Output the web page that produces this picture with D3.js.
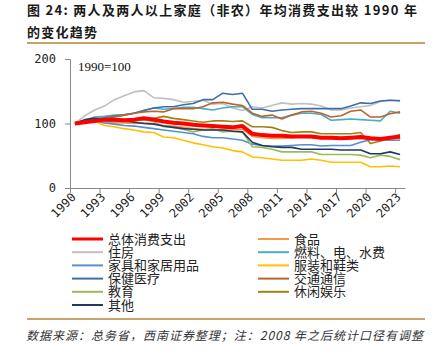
<!DOCTYPE html>
<html><head><meta charset="utf-8">
<script src="https://cdn.jsdelivr.net/npm/d3@7"></script>
<style>
html,body{margin:0;padding:0;background:#fff;}
svg{display:block;}
</style></head>
<body>
<script>
// ---- data ----
const years = d3.range(1990, 2024);
const xTickYears = [1990,1993,1996,1999,2002,2005,2008,2011,2014,2017,2020,2023];
const yTicks = [0,100,200];

const seriesNames = ["总体消费支出","食品","住房","燃料、电、水费","家具和家居用品","服装和鞋类","保健医疗","交通通信","教育","休闲娱乐","其他"];

const total     = [100,102,104,106,106,105,106,108,106,103,101,100,98,97,96,95,94,96,84,82,81,81,80,80,80,78,78,77,78,79,77,76,78,80];
const food      = [100,103,104,103,101,101,100,101,100,97,96,94,92,91,90,90,90,91,80,78,77,77,78,79,78,77,77,77,77,77,76,76,77,77];
const housing   = [100,112,121,127,137,143,149,151,140,139,137,133,134,136,130,131,124,120,126,124,128,132,130,131,130,127,121,121,124,126,128,134,136,136];
const utilities = [100,105,110,111,113,114,116,120,124,122,123,125,125,123,121,124,126,126,114,109,109,109,113,116,116,114,105,106,107,106,105,104,119,116];
const furniture = [100,104,104,101,99,97,96,94,92,90,88,86,84,80,78,78,76,74,68,66,65,65,66,67,67,65,66,66,66,71,75,75,74,74];
const clothing  = [100,102,104,97,95,92,90,87,86,79,78,74,70,67,64,62,58,56,48,47,45,43,43,43,45,43,40,40,40,40,33,33,34,33];
const medical   = [100,105,107,109,111,113,116,120,124,126,126,129,131,137,137,147,145,147,122,122,119,121,122,123,123,123,123,123,127,132,131,135,136,135];
const transport = [100,103,105,108,110,113,116,118,119,118,123,123,123,126,132,133,130,128,116,111,113,107,113,118,119,116,110,112,119,121,110,110,115,118];
const education = [100,101,104,104,103,102,104,106,103,95,94,91,87,90,92,87,88,87,64,63,60,56,56,56,56,52,52,52,52,51,47,51,49,44];
const leisure   = [100,104,107,107,106,105,106,109,108,111,108,106,104,102,104,104,103,104,95,95,94,89,86,87,87,84,84,84,84,86,69,73,77,83];
const other     = [100,106,108,107,105,104,102,100,99,96,94,92,91,90,90,90,88,87,71,66,64,63,63,60,60,60,60,59,59,59,53,53,56,52];

const seriesValues = [total, food, housing, utilities, furniture, clothing, medical, transport, education, leisure, other];
const colors = ["#ff0000","#f79646","#c0c0c0","#4bacc6","#558ed5","#ffc000","#3c6ea8","#b8652e","#9bbb59","#a08214","#1f3864"];

// ---- chart ----
const W = 439, H = 355;
const svg = d3.select("body").append("svg").attr("width", W).attr("height", H);
const cjk = "'Noto Sans CJK SC','Noto Sans',sans-serif";

// title
const title = svg.append("g").attr("font-family", cjk).attr("font-weight", "bold").attr("font-size", 13).attr("fill", "#1a1a1a");
title.append("text").attr("x", 27).attr("y", 15).attr("textLength", 390).attr("lengthAdjust", "spacing")
  .text("图 24: 两人及两人以上家庭（非农）年均消费支出较 1990 年");
title.append("text").attr("x", 27).attr("y", 37).attr("textLength", 70).attr("lengthAdjust", "spacing").text("的变化趋势");
svg.append("line").attr("x1", 27).attr("x2", 425).attr("y1", 43).attr("y2", 43).attr("stroke", "#c9a46a").attr("stroke-width", 2);

// scales
const xB = d3.scaleLinear().domain([1990, 2024]).range([70, 405]);
const y = d3.scaleLinear().domain([0, 200]).range([188, 59]);

// axes
const mono = "'DejaVu Sans Mono',monospace";
const gy = svg.append("g").attr("transform", "translate(70,0)")
  .call(d3.axisLeft(y).tickValues(yTicks).tickSize(5).tickFormat(d3.format("d")));
gy.select(".domain").attr("stroke", "#888");
gy.selectAll(".tick line").attr("stroke", "#888");
gy.selectAll(".tick text").attr("font-family", mono).attr("font-size", 12).attr("fill", "#222").attr("x", -14);

const gx = svg.append("g").attr("transform", "translate(0,188)")
  .call(d3.axisBottom(xB).tickValues(xTickYears).tickSize(5).tickSizeOuter(0).tickFormat(d3.format("d")));
gx.select(".domain").attr("stroke", "#888");
gx.selectAll(".tick line").attr("stroke", "#888");
gx.selectAll(".tick text").attr("font-family", mono).attr("font-size", 12).attr("fill", "#222")
  .attr("text-anchor", "end").attr("dy", null).attr("y", null)
  .attr("transform", "translate(6,10) rotate(-45)");

// annotation
svg.append("text").attr("x", 78).attr("y", 71).attr("font-family", "'Liberation Serif','Times New Roman',serif")
  .attr("font-size", 13).attr("fill", "#111").text("1990=100");

// lines
const line = d3.line().x((d, i) => xB(years[i] + 0.5)).y(d => y(d));
const order = [1,2,3,4,5,6,7,8,9,10,0];
order.forEach(k => {
  svg.append("path").datum(seriesValues[k]).attr("d", line).attr("fill", "none")
    .attr("stroke", colors[k]).attr("stroke-width", k === 0 ? 4 : 1.6).attr("stroke-linejoin", "round");
});

// legend
const legendLeft = [0,2,4,6,8,10];
const legendRight = [1,3,5,7,9];
const lg = svg.append("g").attr("font-family", cjk).attr("font-size", 13).attr("fill", "#222");
function legendItem(k, x0, row) {
  const yy = 239 + row * 13.2;
  lg.append("line").attr("x1", x0).attr("x2", x0 + 31).attr("y1", yy).attr("y2", yy)
    .attr("stroke", colors[k]).attr("stroke-width", k === 0 ? 3 : 2);
  lg.append("text").attr("x", x0 + 36).attr("y", yy + 4.5).text(seriesNames[k]);
}
legendLeft.forEach((k, r) => legendItem(k, 72, r));
legendRight.forEach((k, r) => legendItem(k, 258, r));

// footer
svg.append("line").attr("x1", 27).attr("x2", 425).attr("y1", 319).attr("y2", 319).attr("stroke", "#c9a46a").attr("stroke-width", 2);
svg.append("text").attr("x", 26).attr("y", 340).attr("font-family", cjk).attr("font-style", "italic")
  .attr("font-size", 12).attr("fill", "#333").attr("textLength", 397).attr("lengthAdjust", "spacing")
  .text("数据来源：总务省，西南证券整理；注：2008 年之后统计口径有调整");
</script>
</body></html>
